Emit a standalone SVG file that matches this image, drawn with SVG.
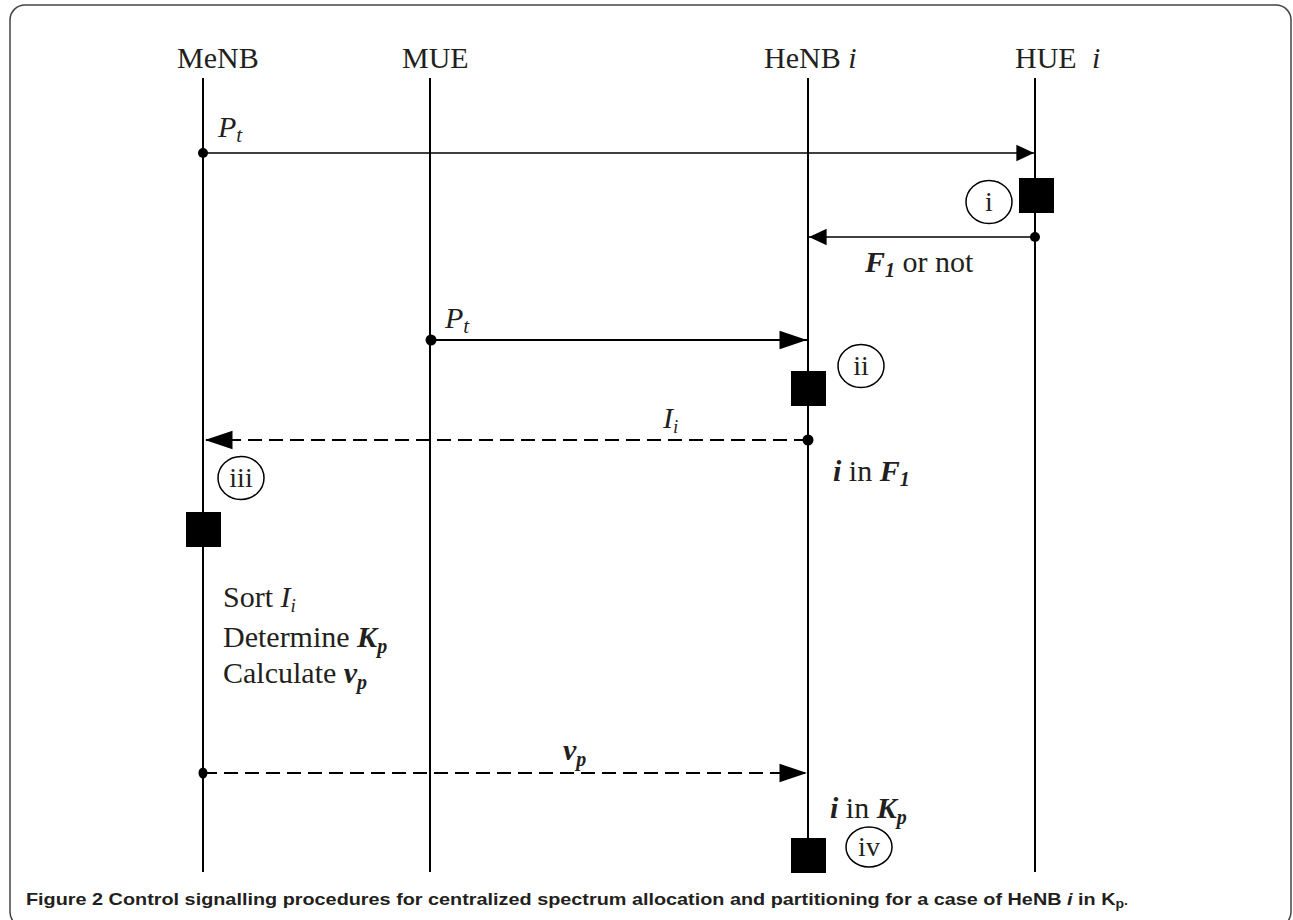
<svg xmlns="http://www.w3.org/2000/svg" width="1293" height="920" viewBox="0 0 1293 920">
<style>
.t{font-family:"Liberation Serif","Times New Roman",serif;font-size:30px;fill:#231f20}
.it{font-style:italic}
.bi{font-style:italic;font-weight:bold}
.life{stroke:#000;stroke-width:2;fill:none}
.thin{stroke:#000;stroke-width:1.3;fill:none}
.thick{stroke:#000;stroke-width:2;fill:none}
.dash{stroke-dasharray:14 7}
.box{fill:#000}
.circ{fill:none;stroke:#000;stroke-width:1.5}
.cl{font-family:"Liberation Serif","Times New Roman",serif;font-size:28px;fill:#231f20;text-anchor:middle}
.cap{font-family:"Liberation Sans",Arial,sans-serif;font-size:17px;font-weight:bold;fill:#231f20}
</style>
<defs>
<marker id="ahThin" markerUnits="userSpaceOnUse" markerWidth="20" markerHeight="20" viewBox="-16 -8 17 16" refX="0" refY="0" orient="auto">
<path d="M-15,-7 L0,0 L-15,7 Z" fill="#000"/>
</marker>
<marker id="ahThick" markerUnits="userSpaceOnUse" markerWidth="30" markerHeight="22" viewBox="-26 -10 27 20" refX="0" refY="0" orient="auto">
<path d="M-25,-8.5 L0,0 L-25,8.5 Z" fill="#000"/>
</marker>
</defs>
<rect x="10" y="5" width="1281" height="922" rx="15" ry="15" fill="#fff" stroke="#444" stroke-width="1.5"/>

<g id="MeNB">
<text class="t" x="177" y="68">MeNB</text>
<line class="life" x1="203" y1="78" x2="203" y2="872"/>
</g>
<g id="MUE">
<text class="t" x="402" y="68">MUE</text>
<line class="life" x1="430" y1="78" x2="430" y2="872"/>
</g>
<g id="HeNB">
<text class="t" x="764" y="68">HeNB <tspan class="it">i</tspan></text>
<line class="life" x1="808" y1="78" x2="808" y2="840"/>
</g>
<g id="HUE">
<text class="t" x="1015" y="68">HUE</text>
<text class="t it" x="1092" y="68">i</text>
<line class="life" x1="1035" y1="78" x2="1035" y2="872"/>
</g>

<g id="step-i">
<rect class="box" x="1019" y="178" width="35" height="35"/>
<ellipse class="circ" cx="989" cy="202" rx="23" ry="21.5"/>
<text class="cl" x="989" y="211">i</text>
</g>
<g id="step-ii">
<rect class="box" x="791" y="371" width="35" height="35"/>
<ellipse class="circ" cx="861" cy="366" rx="23" ry="21.5"/>
<text class="cl" x="861" y="375">ii</text>
</g>
<g id="step-iii">
<rect class="box" x="186" y="512" width="35" height="35"/>
<ellipse class="circ" cx="241" cy="478" rx="23" ry="21.5"/>
<text class="cl" x="241" y="487">iii</text>
<text class="t" x="223" y="607">Sort  <tspan class="it">I</tspan><tspan class="it" font-size="19" dy="5">i</tspan></text>
<text class="t" x="223" y="647">Determine <tspan class="bi">K</tspan><tspan class="bi" font-size="20" dy="6">p</tspan></text>
<text class="t" x="223" y="683">Calculate <tspan class="bi">v</tspan><tspan class="bi" font-size="20" dy="6">p</tspan></text>
</g>
<g id="step-iv">
<rect class="box" x="791" y="838" width="35" height="35"/>
<ellipse class="circ" cx="869" cy="847" rx="23" ry="20"/>
<text class="cl" x="869" y="856">iv</text>
</g>

<g id="connectors">
<line class="thin" x1="203" y1="153" x2="1034" y2="153" marker-end="url(#ahThin)"/>
<circle cx="203" cy="153" r="5"/>
<text class="t it" x="218" y="137">P<tspan font-size="21" dy="5">t</tspan></text>

<line class="thin" x1="1035" y1="237" x2="809" y2="237" marker-end="url(#ahThin)"/>
<circle cx="1035" cy="237" r="5"/>
<text class="t" x="865" y="272"><tspan class="bi">F</tspan><tspan class="bi" font-size="20" dy="5">1</tspan><tspan dy="-5"> or not</tspan></text>

<line class="thick" x1="431" y1="340" x2="807" y2="340" marker-end="url(#ahThick)"/>
<circle cx="431" cy="340" r="5.5"/>
<text class="t it" x="445" y="328">P<tspan font-size="21" dy="5">t</tspan></text>

<line class="thick dash" x1="808" y1="440" x2="205" y2="440" marker-end="url(#ahThick)"/>
<circle cx="808" cy="440" r="5.5"/>
<text class="t it" x="663" y="428">I<tspan font-size="19" dy="5">i</tspan></text>
<text class="t" x="833" y="481"><tspan class="bi">i</tspan> in <tspan class="bi">F</tspan><tspan class="bi" font-size="20" dy="5">1</tspan></text>

<line class="thick dash" x1="203" y1="773" x2="807" y2="773" marker-end="url(#ahThick)"/>
<ellipse cx="203" cy="773" rx="4.5" ry="5.5"/>
<text class="t" x="563" y="760"><tspan class="bi">v</tspan><tspan class="bi" font-size="20" dy="6">p</tspan></text>
<text class="t" x="830" y="818"><tspan class="bi">i</tspan> in <tspan class="bi">K</tspan><tspan class="bi" font-size="20" dy="6">p</tspan></text>
</g>

<text class="cap" x="26" y="905" textLength="1102" lengthAdjust="spacingAndGlyphs">Figure 2 <tspan font-weight="600">Control signalling procedures for centralized spectrum allocation and partitioning for a case of HeNB <tspan font-style="italic">i</tspan> in K</tspan><tspan font-size="12" dy="3">p</tspan><tspan font-size="12" dy="-3">.</tspan></text>
</svg>
